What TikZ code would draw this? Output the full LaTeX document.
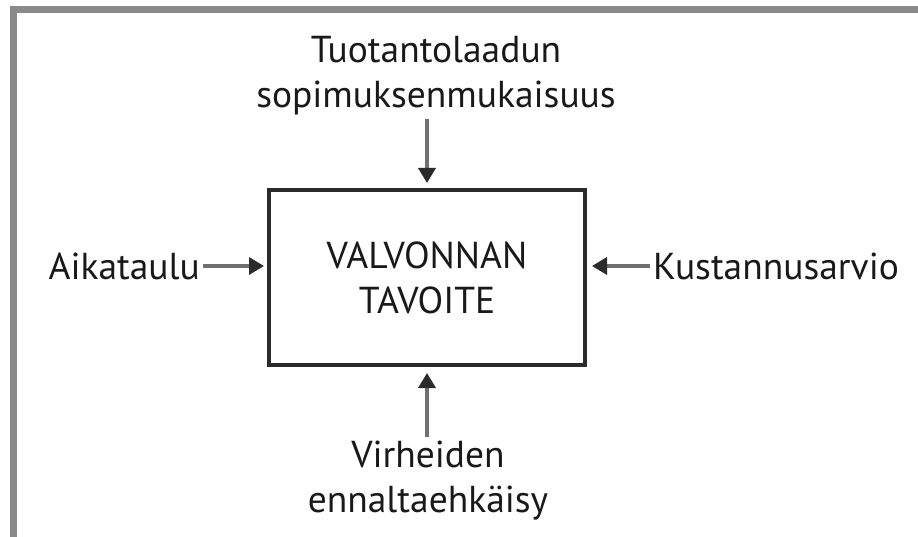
\documentclass[tikz,border=0pt]{standalone}
\usepackage{fontspec}
\setmainfont{PT Sans}
\usetikzlibrary{arrows.meta, positioning}
\definecolor{framegray}{HTML}{8A8A8A}
\definecolor{shaftgray}{HTML}{707070}
\definecolor{boxline}{HTML}{2B2B2B}

\begin{document}
\begin{tikzpicture}[x=1pt, y=-1pt,
        lbl/.style={font=\fontsize{37.5}{45}\selectfont, align=center, inner sep=0pt, text=black!90},
        arrow/.style={shaftgray, line width=3.5pt, -{Triangle[length=15pt, width=17pt, color=boxline]}}]

        \useasboundingbox (0,0) rectangle (918,537);

        % Frame
        \draw[framegray, line width=7pt] (940,9.5) -- (13.5,9.5) -- (13.5,560);

        % Goal box
        \node[draw=boxline, line width=4pt, minimum width=316pt, minimum height=175pt, lbl] (tavoite) at (427,277.5) {VALVONNAN\\TAVOITE};

        % Production quality
        \node[lbl] (laatu) at (436,76) {Tuotantolaadun\\sopimuksenmukaisuus};
        \draw[arrow, shorten <=3pt, shorten >=5pt] (laatu.south -| tavoite.north) -- (tavoite.north);

        % Schedule
        \node[lbl, anchor=east] (aikataulu) at (200,266) {Aikataulu};
        \draw[arrow, shorten <=3pt, shorten >=3pt] (aikataulu.east) -- (aikataulu.east -| tavoite.west);

        % Cost estimate
        \node[lbl, anchor=west] (kustannus) at (653,266) {Kustannusarvio};
        \draw[arrow, shorten <=3pt, shorten >=5pt] (kustannus.west) -- (kustannus.west -| tavoite.east);

        % Error prevention
        \node[lbl] (virheet) at (428,481) {Virheiden\\ennaltaehkäisy};
        \draw[arrow, shorten <=4pt, shorten >=6pt] (virheet.north -| tavoite.south) -- (tavoite.south);

    \end{tikzpicture}
\end{document}
